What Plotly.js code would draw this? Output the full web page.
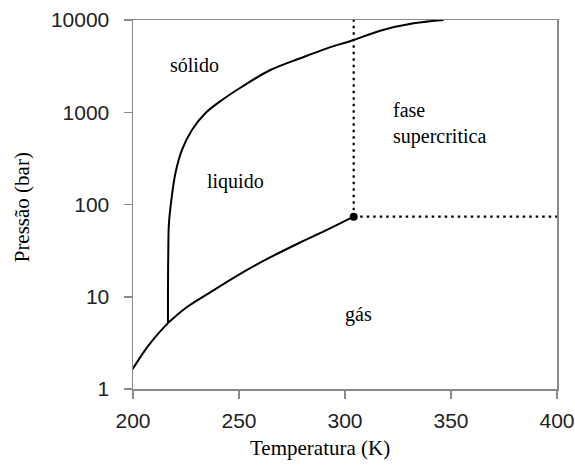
<!DOCTYPE html>
<html>
<head>
<meta charset="utf-8">
<script src="https://cdn.plot.ly/plotly-3.0.1.min.js"></script>
<style>
  html, body { margin: 0; padding: 0; background: #fff; }
  #chart { width: 575px; height: 470px; }
</style>
</head>
<body>
<div id="chart"></div>
<script>
// CO2 phase diagram: temperature (K) vs pressure (bar, log scale)

// Sublimation curve (solid / gas), up to the triple point
const sublimT = [199.5, 205.8, 212.1, 216.5];
const sublimP = [1.6, 2.66, 4.03, 5.18];

// Vaporization curve (liquid / gas), triple point to critical point
const vaporT = [216.5, 224.7, 235.7, 249.8, 262.4, 278.1, 290.7, 304.1];
const vaporP = [5.18, 7.5, 10.9, 17.3, 25.1, 38, 52, 73.8];

// Melting curve (solid / liquid), from the triple point upward
const meltT = [216.5, 216.5, 216.7, 216.9, 218.1, 220.0, 223.1, 227.8, 234.1, 242.0, 251.4, 264.8, 278.9, 291.5, 304.1, 316.6, 332.4, 346.5];
const meltP = [5.18, 12, 40, 60, 112, 218, 391, 643, 975, 1358, 1890, 2870, 3850, 4930, 6070, 7660, 9200, 10000];

// Critical point
const critT = 304.1;
const critP = 73.8;

// Axis ticks
const xTicks = [200, 250, 300, 350, 400];
const yTicks = [1, 10, 100, 1000, 10000];
const yTickText = ['1', '10', '100', '1000', '10000'];

// Region labels
const regionNames = ['sólido', 'liquido', 'fase', 'supercritica', 'gás'];
const regionT = [228.9, 248.4, 321.9, 321.9, 306.3];
const regionLogP = [3.51, 2.245, 3.025, 2.732, 0.804];
const regionAlign = ['center', 'center', 'left', 'left', 'center'];

const serif = '"Liberation Serif", "Times New Roman", serif';
const sans = '"Liberation Sans", Arial, sans-serif';
const curveLine = { color: '#000', width: 2, shape: 'spline', smoothing: 1 };
const boundaryLine = { color: '#000', width: 2.2, dash: '2.5px,4px' };

const traces = [
  { x: sublimT, y: sublimP, mode: 'lines', line: curveLine },
  { x: vaporT, y: vaporP, mode: 'lines', line: curveLine },
  { x: meltT, y: meltP, mode: 'lines', line: curveLine },
  // supercritical boundaries starting at the critical point
  { x: [critT, critT], y: [critP, 10000], mode: 'lines', line: boundaryLine },
  { x: [critT, 400], y: [critP, critP], mode: 'lines', line: boundaryLine },
  { x: [critT], y: [critP], mode: 'markers', marker: { color: '#000', size: 8 } }
];

const annotations = regionNames.map((name, i) => ({
  x: regionT[i], y: regionLogP[i], xref: 'x', yref: 'y',
  text: name, showarrow: false,
  xanchor: regionAlign[i], yanchor: 'middle',
  font: { family: serif, size: 20, color: '#000' }
}));

// axis titles, placed in paper coordinates
annotations.push({
  xref: 'paper', yref: 'paper',
  x: (319.7 - 132.7) / (556.7 - 132.7), y: -(448 - 389) / (389 - 20),
  xanchor: 'center', yanchor: 'middle',
  text: 'Temperatura (K)', showarrow: false,
  font: { family: serif, size: 21, color: '#000' }
});
annotations.push({
  xref: 'paper', yref: 'paper',
  x: -(132.7 - 22) / (556.7 - 132.7), y: (389 - 207) / (389 - 20),
  xanchor: 'center', yanchor: 'middle', textangle: -90,
  text: 'Pressão (bar)', showarrow: false,
  font: { family: serif, size: 21, color: '#000' }
});

const layout = {
  width: 575, height: 470,
  margin: { l: 132.7, r: 18.3, t: 20, b: 81 },
  paper_bgcolor: '#fff', plot_bgcolor: '#fff',
  showlegend: false,
  xaxis: {
    range: [200, 400], tickvals: xTicks,
    showgrid: false, zeroline: false,
    showline: true, linecolor: '#8a8a8a', linewidth: 1.5, mirror: true,
    ticks: 'outside', ticklen: 8, tickcolor: '#8a8a8a', tickwidth: 1.5,
    ticklabelstandoff: 4,
    tickfont: { family: sans, size: 21, color: '#222' }
  },
  yaxis: {
    type: 'log', range: [0, 4], tickvals: yTicks, ticktext: yTickText,
    showgrid: false, zeroline: false,
    showline: true, linecolor: '#8a8a8a', linewidth: 1.5, mirror: true,
    ticks: 'outside', ticklen: 8, tickcolor: '#8a8a8a', tickwidth: 1.5,
    ticklabelstandoff: 10,
    tickfont: { family: sans, size: 21, color: '#222' }
  },
  annotations: annotations
};

Plotly.newPlot('chart', traces, layout, { displayModeBar: false, staticPlot: true });
</script>
</body>
</html>
